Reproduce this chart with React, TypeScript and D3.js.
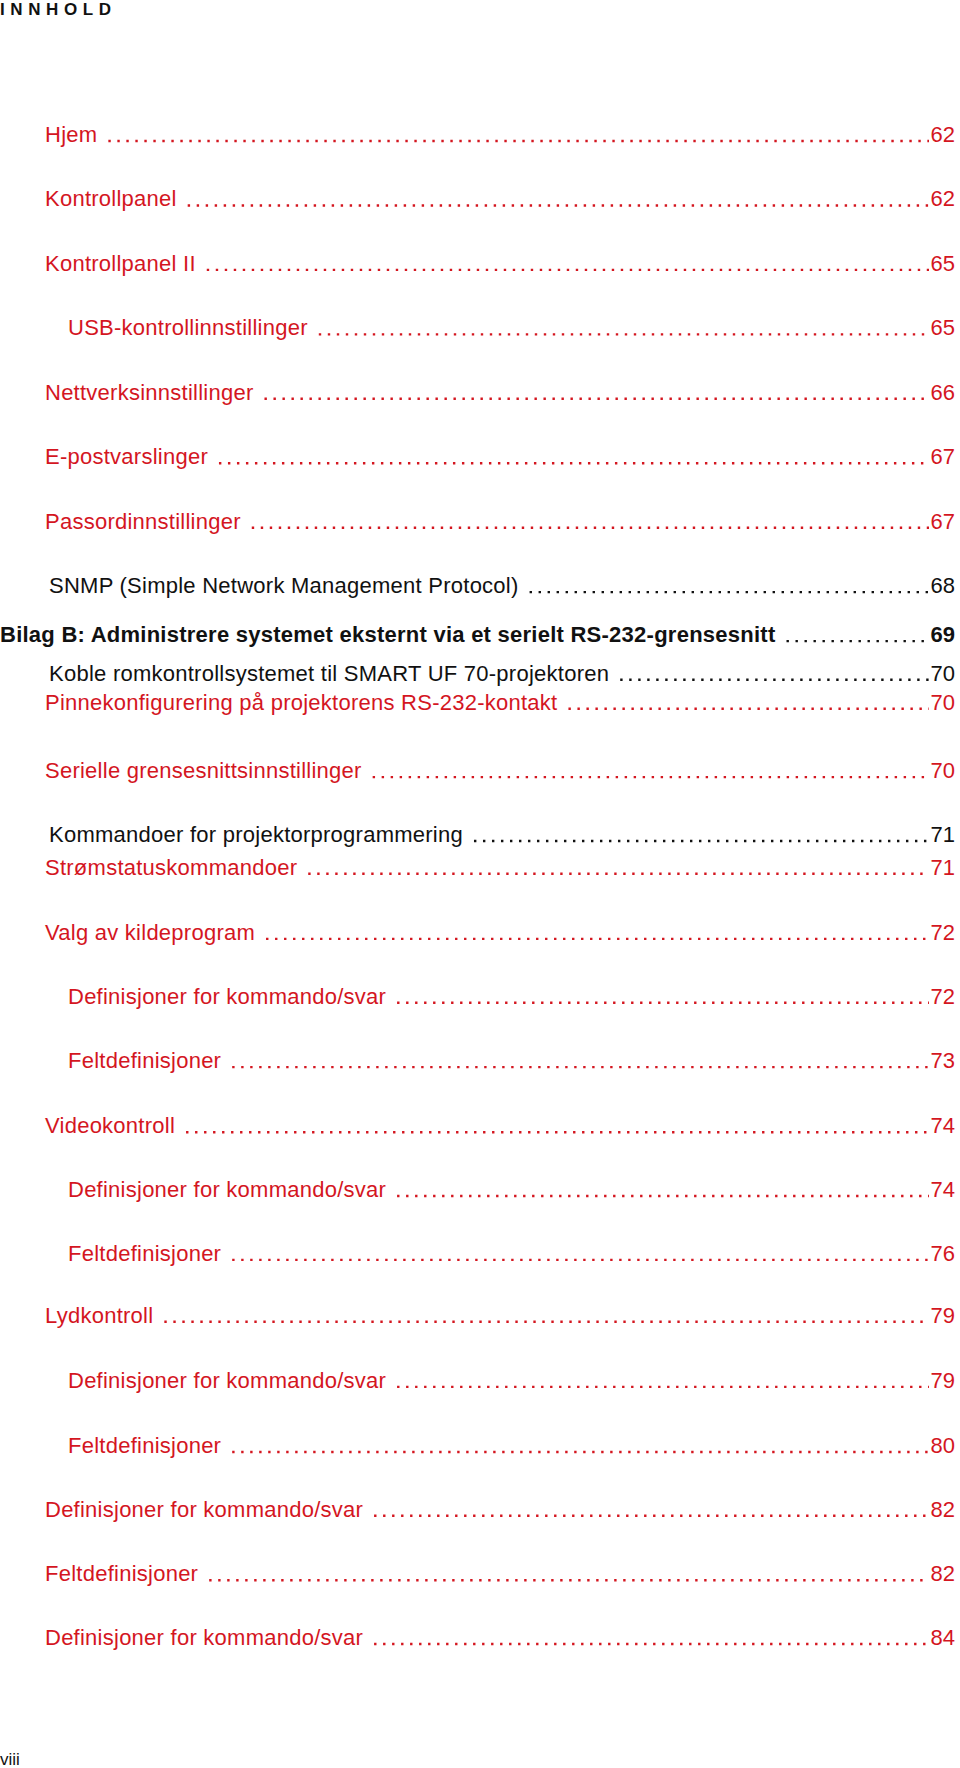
import React, { useEffect, useRef } from "react";
import * as d3 from "d3";

// ---- data ----
const headingText = "INNHOLD";
const footerText = "viii";

const entryTitles: string[] = [
  "Hjem",
  "Kontrollpanel",
  "Kontrollpanel II",
  "USB-kontrollinnstillinger",
  "Nettverksinnstillinger",
  "E-postvarslinger",
  "Passordinnstillinger",
  "SNMP (Simple Network Management Protocol)",
  "Bilag B: Administrere systemet eksternt via et serielt RS-232-grensesnitt",
  "Koble romkontrollsystemet til SMART UF 70-projektoren",
  "Pinnekonfigurering på projektorens RS-232-kontakt",
  "Serielle grensesnittsinnstillinger",
  "Kommandoer for projektorprogrammering",
  "Strømstatuskommandoer",
  "Valg av kildeprogram",
  "Definisjoner for kommando/svar",
  "Feltdefinisjoner",
  "Videokontroll",
  "Definisjoner for kommando/svar",
  "Feltdefinisjoner",
  "Lydkontroll",
  "Definisjoner for kommando/svar",
  "Feltdefinisjoner",
  "Definisjoner for kommando/svar",
  "Feltdefinisjoner",
  "Definisjoner for kommando/svar",
];

const entryPages: string[] = [
  "62", "62", "65", "65", "66", "67", "67", "68", "69", "70", "70", "70", "71",
  "71", "72", "72", "73", "74", "74", "76", "79", "79", "80", "82", "82", "84",
];

// hierarchy level: 0 = appendix heading, 1 = section, 2 = subsection
const entryLevels: number[] = [
  1, 1, 1, 2, 1, 1, 1, 1, 0, 1, 1, 1, 1, 1, 1, 2, 2, 1, 2, 2, 1, 2, 2, 1, 1, 1,
];

// kind: link (red), plain (black), heading (bold black)
const entryKinds: string[] = [
  "link", "link", "link", "link", "link", "link", "link", "plain", "heading",
  "plain", "link", "link", "plain", "link", "link", "link", "link", "link",
  "link", "link", "link", "link", "link", "link", "link", "link",
];

// vertical slot of each line on the page (in regular line units)
const entrySlots: number[] = [
  0, 1, 2, 3, 4, 5, 6, 7, 7.76, 8.36, 8.81, 9.87, 10.86, 11.37, 12.38, 13.37,
  14.37, 15.38, 16.37, 17.36, 18.32, 19.33, 20.34, 21.33, 22.33, 23.32,
];

const W = 960;
const H = 1768;
const RED = "#d4161f";
const FONT = "'Liberation Sans', Arial, Helvetica, sans-serif";

export default function App() {
  const ref = useRef<SVGSVGElement | null>(null);

  useEffect(() => {
    const svg = d3.select(ref.current);
    svg.selectAll("*").remove();

    const y = d3
      .scaleLinear()
      .domain([0, 23.32])
      .range([142, 1645]);
    const indent = d3.scaleOrdinal<number, number>().domain([0, 1, 2]).range([0, 45, 68]);

    const rightEdge = 955;
    const leaderEnd = 929;

    svg
      .append("text")
      .attr("x", 0)
      .attr("y", 15)
      .attr("font-family", FONT)
      .attr("font-weight", "bold")
      .attr("font-size", 17)
      .attr("letter-spacing", 5.6)
      .attr("fill", "#111")
      .text(headingText);

    const data = entryTitles.map((t, i) => ({
      title: t,
      page: entryPages[i],
      level: entryLevels[i],
      kind: entryKinds[i],
      slot: entrySlots[i],
    }));

    const g = svg.selectAll("g.entry").data(data).enter().append("g").attr("class", "entry");

    g.each(function (d) {
      const sel = d3.select(this);
      const color = d.kind === "link" ? RED : "#111";
      const bold = d.kind === "heading";
      const x0 = indent(d.level) + (d.kind === "plain" ? 4 : 0);
      const by = y(d.slot);
      const t = sel
        .append("text")
        .attr("x", x0)
        .attr("y", by)
        .attr("font-family", FONT)
        .attr("font-size", 22)
        .attr("font-weight", bold ? "bold" : "normal")
        .attr("letter-spacing", bold ? 0.25 : 0.25)
        .attr("fill", color)
        .text(d.title);
      const len = (t.node() as SVGTextElement).getComputedTextLength();
      const start = x0 + len + 11;
      sel
        .append("line")
        .attr("x1", start)
        .attr("x2", leaderEnd)
        .attr("y1", by - 1)
        .attr("y2", by - 1)
        .attr("stroke", color)
        .attr("stroke-width", 2.4)
        .attr("stroke-dasharray", "2.4 6.6");
      sel
        .append("text")
        .attr("x", rightEdge)
        .attr("y", by)
        .attr("text-anchor", "end")
        .attr("font-family", FONT)
        .attr("font-size", 22)
        .attr("font-weight", bold ? "bold" : "normal")
        .attr("fill", color)
        .text(d.page);
    });

    svg
      .append("text")
      .attr("x", 0)
      .attr("y", 1765)
      .attr("font-family", FONT)
      .attr("font-size", 17)
      .attr("fill", "#111")
      .text(footerText);
  }, []);

  return (
    <svg
      ref={ref}
      width={W}
      height={H}
      style={{ position: "absolute", left: 0, top: 0, background: "#fff" }}
    />
  );
}
